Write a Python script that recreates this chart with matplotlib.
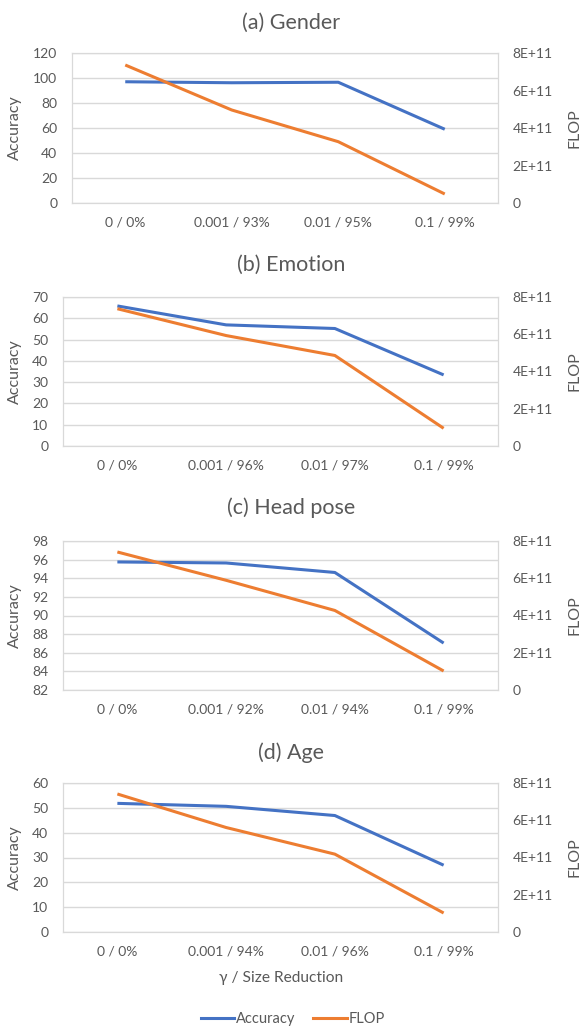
import numpy as np
import matplotlib.pyplot as plt
from matplotlib.ticker import FuncFormatter

plt.rcParams['font.family'] = ['Lato', 'DejaVu Sans']

# data
titles = ["(a) Gender", "(b) Emotion", "(c) Head pose", "(d) Age"]
cats_gender = ["0 / 0%", "0.001 / 93%", "0.01 / 95%", "0.1 / 99%"]
cats_emotion = ["0 / 0%", "0.001 / 96%", "0.01 / 97%", "0.1 / 99%"]
cats_head = ["0 / 0%", "0.001 / 92%", "0.01 / 94%", "0.1 / 99%"]
cats_age = ["0 / 0%", "0.001 / 94%", "0.01 / 96%", "0.1 / 99%"]

acc_gender = [97.0, 96.2, 96.6, 59.0]
acc_emotion = [65.8, 56.9, 55.2, 33.4]
acc_head = [95.75, 95.64, 94.62, 87.04]
acc_age = [51.8, 50.6, 46.9, 26.9]

flop_gender = [7.36e11, 4.96e11, 3.27e11, 0.48e11]
flop_emotion = [7.37e11, 5.93e11, 4.86e11, 0.95e11]
flop_head = [7.41e11, 5.89e11, 4.27e11, 1.02e11]
flop_age = [7.41e11, 5.61e11, 4.18e11, 1.02e11]

acc_ticks = [np.arange(0, 121, 20), np.arange(0, 71, 10),
             np.arange(82, 99, 2), np.arange(0, 61, 10)]
flop_ticks = [0, 2e11, 4e11, 6e11, 8e11]

cats = [cats_gender, cats_emotion, cats_head, cats_age]
accs = [acc_gender, acc_emotion, acc_head, acc_age]
flops = [flop_gender, flop_emotion, flop_head, flop_age]

W, H = 580, 1026
# plot boxes in pixels: left, top, right, bottom
boxes = [(72, 53, 498, 203), (63, 297, 498, 446),
         (63, 541, 498, 690), (63, 783, 498, 932)]
title_y = [23, 265, 508, 753]

blue = "#4472C4"
orange = "#ED7D31"
txt = "#595959"
grid = "#D9D9D9"

def flop_fmt(v, pos):
    if v == 0:
        return "0"
    return "%dE+11" % round(v / 1e11)

fig = plt.figure(figsize=(W / 100, H / 100), dpi=100)

for i in range(4):
    l, t, r, b = boxes[i]
    ax = fig.add_axes([l / W, 1 - b / H, (r - l) / W, (b - t) / H])
    x = np.arange(len(cats[i]))
    ax.plot(x, accs[i], color=blue, lw=2.2, solid_capstyle='butt')
    ax.set_xlim(-0.5, 3.5)
    ax.set_ylim(acc_ticks[i][0], acc_ticks[i][-1])
    ax.set_yticks(acc_ticks[i])
    ax.set_xticks(x)
    ax.set_xticklabels(cats[i])
    ax.yaxis.grid(True, color=grid, lw=1)
    ax.set_axisbelow(True)
    ax.tick_params(length=0, colors=txt, labelsize=10)
    ax.tick_params(axis='x', pad=9.5)
    ax.tick_params(axis='y', pad=10.5)
    for s in ax.spines.values():
        s.set_color(grid)
    ax.set_ylabel("Accuracy", color=txt, fontsize=11.5)
    ax.yaxis.set_label_coords((22 - l) / (r - l), 0.5)

    ax2 = ax.twinx()
    ax2.plot(x, flops[i], color=orange, lw=2.2, solid_capstyle='butt')
    ax2.set_ylim(0, 8e11)
    ax2.set_yticks(flop_ticks)
    ax2.yaxis.set_major_formatter(FuncFormatter(flop_fmt))
    ax2.tick_params(length=0, colors=txt, labelsize=10, pad=10.5)
    for s in ax2.spines.values():
        s.set_color(grid)
    ax2.set_ylabel("FLOP", color=txt, fontsize=11.5)
    ax2.yaxis.set_label_coords((567 - l) / (r - l), 0.5)

    fig.text(291 / W, 1 - title_y[i] / H, titles[i], ha='center', va='center',
             fontsize=15.5, color=txt)

fig.text(281 / W, 1 - 978 / H, "γ / Size Reduction", ha='center', va='center',
         fontsize=11.2, color=txt)

h1, = plt.plot([], [], color=blue, lw=2.2)
h2, = plt.plot([], [], color=orange, lw=2.2)
fig.legend([h1, h2], ["Accuracy", "FLOP"], loc='center',
           bbox_to_anchor=(293 / W, 1 - 1019 / H), ncol=2, frameon=False,
           fontsize=10.5, handlelength=2.3, handletextpad=0.15,
           columnspacing=1.2, labelcolor=txt)

fig.savefig("out.png", dpi=100)
